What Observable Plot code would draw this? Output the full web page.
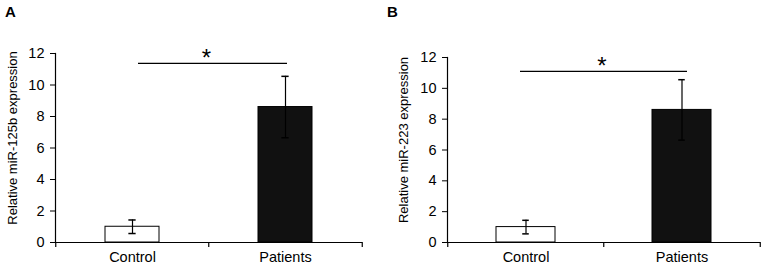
<!DOCTYPE html>
<html>
<head>
<meta charset="utf-8">
<script src="https://cdn.jsdelivr.net/npm/d3@7"></script>
<script src="https://cdn.jsdelivr.net/npm/@observablehq/plot@0.6"></script>
<style>
  html, body { margin: 0; padding: 0; background: #fff; }
  #wrap { position: relative; width: 765px; height: 268px; font-family: "Liberation Sans", Arial, sans-serif; background: #fff; }
  .panel { position: absolute; top: 0; }
  .letter { position: absolute; font-weight: bold; font-size: 15px; color: #000; z-index: 5; }
</style>
</head>
<body>
<div id="wrap"></div>
<script>
// Data
const groups = ["Control", "Patients"];
const panelLetters = ["A", "B"];
const yLabels = ["Relative miR-125b expression", "Relative miR-223 expression"];
const meansA = [1.0, 8.6];
const errA = [0.43, 1.95];
const meansB = [1.0, 8.6];
const errB = [0.44, 1.96];
const sigA = 11.37;
const sigB = 11.1;
const barFills = ["#ffffff", "#111111"];
const yTicks = [0, 2, 4, 6, 8, 10, 12];

function panel(means, errs, sig, ylabel, opts) {
  const rows = groups.map((g, i) => ({g, v: means[i], lo: means[i] - errs[i], hi: means[i] + errs[i], fill: barFills[i]}));
  const {width, mL, mR, mT, mB, pad, sigL, sigR, starDx} = opts;
  const height = 268;
  const step = (width - mL - mR) / groups.length;
  const bw = step * (1 - pad);
  const capInset = (bw - 7) / 2;
  const pxPerUnit = (height - mT - mB) / 12;
  const tickLen = 5 / pxPerUnit;
  return Plot.plot({
    width, height,
    marginLeft: mL, marginRight: mR, marginTop: mT, marginBottom: mB,
    style: {fontFamily: "'Liberation Sans', Arial, sans-serif", fontSize: "14px", color: "#000", background: "transparent", overflow: "visible"},
    x: {domain: groups, paddingInner: pad, paddingOuter: pad / 2, label: null},
    y: {domain: [0, 12], label: null},
    marks: [
      Plot.barY(rows, {x: "g", y: "v", fill: "fill", stroke: "#000", strokeWidth: 1}),
      Plot.ruleX(rows, {x: "g", y1: "lo", y2: "hi", stroke: "#000", strokeWidth: 1.2}),
      Plot.tickY(rows, {x: "g", y: "lo", stroke: "#000", strokeWidth: 1.5, insetLeft: capInset, insetRight: capInset}),
      Plot.tickY(rows, {x: "g", y: "hi", stroke: "#000", strokeWidth: 1.5, insetLeft: capInset, insetRight: capInset}),
      // significance line
      Plot.ruleY([sig], {x1: () => groups[0], x2: () => groups[1], insetLeft: sigL, insetRight: sigR, stroke: "#000", strokeWidth: 1.3}),
      Plot.text(["*"], {x: () => groups[0], y: sig, dx: starDx, dy: -5, fontSize: 24, fill: "#000"}),
      // axes
      Plot.ruleY([0], {stroke: "#000", strokeWidth: 1.2}),
      Plot.frame({anchor: "left", stroke: "#000", strokeWidth: 1.2}),
      Plot.axisY({ticks: yTicks, tickSize: 5, tickPadding: 6, tickFormat: d3.format("d"), fontSize: 14.5, label: null}),
      Plot.axisX({tickSize: 0, tickPadding: 9, fontSize: 14.5, label: null}),
      Plot.ruleX(groups, {x: d => d, dx: -step / 2, y1: 0, y2: -tickLen, stroke: "#000", strokeWidth: 1.2}),
      Plot.ruleX([groups[1]], {x: d => d, dx: step / 2, y1: 0, y2: -tickLen, stroke: "#000", strokeWidth: 1.2}),
      Plot.text([ylabel], {frameAnchor: "left", textAnchor: "middle", rotate: -90, dx: opts.labDx, dy: -10, fontSize: 13, fill: "#000"})
    ]
  });
}

const wrap = document.getElementById("wrap");
const a = panel(meansA, errA, sigA, yLabels[0], {width: 380, mL: 55, mR: 18, mT: 53, mB: 26, pad: 0.65, sigL: 33, sigR: 25, starDx: 74, labDx: -43});
const b = panel(meansB, errB, sigB, yLabels[1], {width: 380, mL: 62, mR: 5, mT: 57, mB: 26, pad: 0.62, sigL: 24, sigR: 24, starDx: 76, labDx: -44});
const da = document.createElement("div"); da.className = "panel"; da.style.left = "0px"; da.appendChild(a);
const db = document.createElement("div"); db.className = "panel"; db.style.left = "385px"; db.appendChild(b);
wrap.appendChild(da); wrap.appendChild(db);
panelLetters.forEach((L, i) => {
  const el = document.createElement("div");
  el.className = "letter";
  el.style.left = (i === 0 ? 5 : 387) + "px";
  el.style.top = "3px";
  el.textContent = L;
  wrap.appendChild(el);
});
</script>
</body>
</html>
